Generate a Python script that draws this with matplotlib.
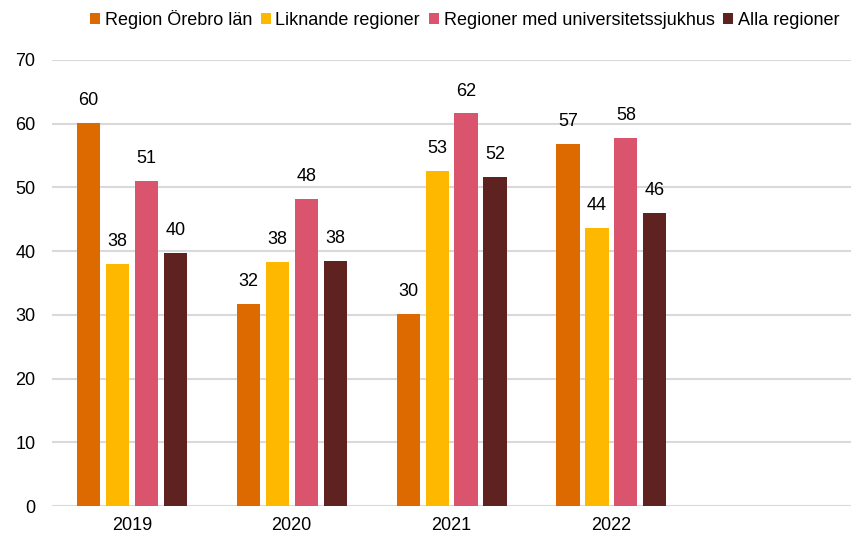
import numpy as np
import matplotlib.pyplot as plt

plt.rcParams['font.family'] = ['Liberation Sans', 'DejaVu Sans']

years = ["2019", "2020", "2021", "2022", ""]
series = ["Region Örebro län", "Liknande regioner",
          "Regioner med universitetssjukhus", "Alla regioner"]
orebro = [60.1, 31.7, 30.1, 56.8]
liknande = [38.0, 38.3, 52.6, 43.6]
univ = [51.0, 48.2, 61.6, 57.8]
alla = [39.7, 38.4, 51.6, 46.0]
colors = ["#DD6A00", "#FFB800", "#DB546E", "#5E2321"]

fig = plt.figure(figsize=(8.52, 5.35), dpi=100)
ax = fig.add_axes([0.061, 0.054, 0.938, 0.834])

x = np.arange(len(years))
width = 0.145
step = 0.181
for i, (vals, col, name) in enumerate(zip([orebro, liknande, univ, alla], colors, series)):
    pos = x[:len(vals)] + (i - 1.5) * step
    bars = ax.bar(pos, vals, width, color=col, label=name, zorder=3)
    for b, v in zip(bars, vals):
        ax.annotate(f"{v:.0f}", (b.get_x() + b.get_width() / 2, v),
                    xytext=(0, 10), textcoords="offset points",
                    ha="center", va="bottom", fontsize=13, color="#000000")

ax.set_xlim(-0.5, len(years) - 0.5)
ax.set_ylim(0, 70)
ax.set_yticks(range(0, 71, 10))
ax.set_xticks(x)
ax.set_xticklabels(years)
ax.grid(axis="y", color="#D9D9D9", linewidth=1.5, zorder=0)
for s in ["top", "right", "left", "bottom"]:
    ax.spines[s].set_visible(False)
ax.tick_params(axis="both", length=0, labelsize=13, colors="#000000")
ax.tick_params(axis="y", pad=12)
ax.tick_params(axis="x", pad=8)

fig.legend(loc="upper right", bbox_to_anchor=(1.0, 1.005), ncol=4, frameon=False,
           fontsize=13, handlelength=0.55, handleheight=0.55, handletextpad=0.25,
           columnspacing=0.5, borderaxespad=0.3)

fig.savefig("out.png", dpi=100)
